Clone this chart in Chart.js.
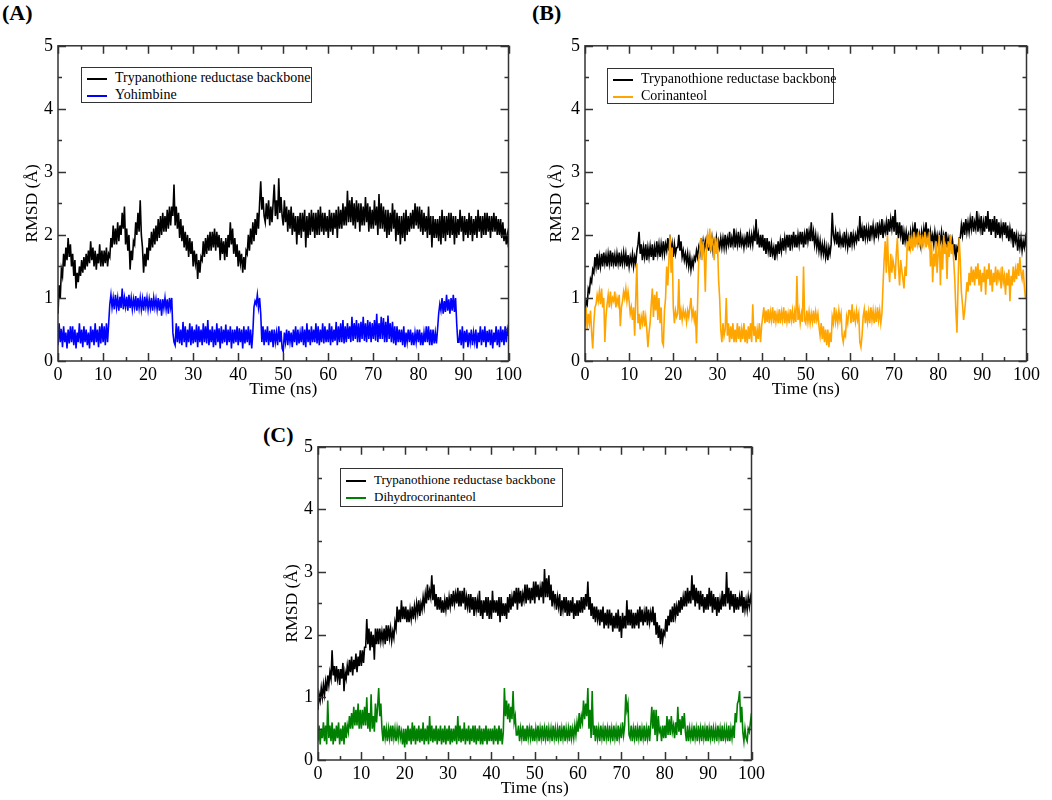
<!DOCTYPE html>
<html>
<head>
<meta charset="utf-8">
<script src="https://cdn.jsdelivr.net/npm/chart.js@4.4.1/dist/chart.umd.min.js"></script>
<style>
  body { margin: 0; background: #fff; width: 1052px; height: 800px; position: relative; overflow: hidden;
         font-family: "Liberation Serif", "Times New Roman", serif; color: #000; }
  .panel { position: absolute; }
  .tag { position: absolute; font-weight: bold; font-size: 22px; line-height: 22px; }
  .legend { position: absolute; border: 1.5px solid #333; background: #fff; box-sizing: border-box; font-size: 14px; }
  .row { position: absolute; left: 0; height: 16px; line-height: 16px; white-space: nowrap; }
  .row i { display: inline-block; width: 20px; height: 2px; vertical-align: middle; margin: 0 8px 0 5px; }
</style>
</head>
<body>
<div class="tag" style="left:2px;top:2px">(A)</div>
<div class="tag" style="left:532px;top:2px">(B)</div>
<div class="tag" style="left:263px;top:424px">(C)</div>

<div class="panel" style="left:0;top:30px;width:525px;height:370px"><canvas id="chartA"></canvas></div>
<div class="panel" style="left:520px;top:30px;width:523px;height:370px"><canvas id="chartB"></canvas></div>
<div class="panel" style="left:260px;top:431px;width:508px;height:368px"><canvas id="chartC"></canvas></div>

<div class="legend" style="left:81px;top:67px;width:231px;height:36px">
  <div class="row" style="top:2px"><i style="background:#000"></i>Trypanothione reductase backbone</div>
  <div class="row" style="top:19px"><i style="background:#0000ff"></i>Yohimbine</div>
</div>
<div class="legend" style="left:607px;top:68px;width:227px;height:36px">
  <div class="row" style="top:2px"><i style="background:#000"></i>Trypanothione reductase backbone</div>
  <div class="row" style="top:19px"><i style="background:#ffa500"></i>Corinanteol</div>
</div>
<div class="legend" style="left:340px;top:468px;width:223px;height:39px;font-size:13px">
  <div class="row" style="top:3px"><i style="background:#000"></i>Trypanothione reductase backbone</div>
  <div class="row" style="top:20px"><i style="background:#008000"></i>Dihydrocorinanteol</div>
</div>

<script>
// sampling step of the traces (ns), 401 samples from 0 to 100 ns
const timeStep = 0.25;

const xTicks = [0, 10, 20, 30, 40, 50, 60, 70, 80, 90, 100];
const xMinor = [5, 15, 25, 35, 45, 55, 65, 75, 85, 95];
const yTicks = [0, 1, 2, 3, 4, 5];
const yMinor = [0.5, 1.5, 2.5, 3.5, 4.5];

// (A) backbone + Yohimbine
const backboneA = [
  0.75,1.2,1.0,1.45, 1.35,1.7,1.5,1.8, 1.6,1.95,1.65,1.85, 1.5,1.7,1.35,1.6, 1.15,1.4,1.25,1.5, 1.35,1.6,1.4,1.65, 1.45,1.7,1.5,1.75, 1.55,1.9,1.6,1.8, 1.5,1.75,1.45,1.7, 1.55,1.85,1.5,1.75,
  1.5,1.75,1.55,1.8, 1.5,1.7,1.65,1.95, 1.8,2.15,1.85,2.1, 1.85,2.2,1.9,2.15, 2.0,2.35,2.1,2.45, 1.85,2.1,1.75,2.0, 1.45,1.75,1.6,1.9, 1.85,2.2,2.0,2.35, 2.05,2.55,2.0,1.8, 1.4,1.7,1.5,1.8,
  1.6,1.95,1.75,2.05, 1.8,2.1,1.85,2.15, 1.9,2.25,1.95,2.3, 2.0,2.35,2.05,2.3, 2.05,2.4,2.1,2.45, 2.15,2.45,2.3,2.8, 2.15,2.45,2.1,2.35, 1.95,2.25,1.9,2.15, 1.8,2.05,1.75,2.0, 1.65,1.95,1.7,1.9,
  1.5,1.75,1.55,1.7, 1.3,1.6,1.4,1.65, 1.6,1.9,1.65,1.95, 1.7,2.0,1.75,2.05, 1.75,2.05,1.8,2.1, 1.75,2.05,1.8,2.0, 1.6,1.95,1.7,1.9, 1.6,1.95,1.65,2.0, 1.8,2.2,1.85,2.1, 1.7,1.95,1.65,1.85,
  1.5,1.75,1.55,1.7, 1.4,1.65,1.45,1.75, 1.7,2.0,1.75,2.1, 1.85,2.2,1.9,2.25, 2.0,2.35,2.1,2.5, 2.85,2.4,2.6,2.3, 2.2,2.5,2.25,2.55, 2.15,2.45,2.2,2.5, 2.8,2.3,2.55,2.25, 2.9,2.35,2.6,2.3,
  2.15,2.55,2.2,2.45, 2.05,2.4,2.1,2.45, 2.0,2.35,2.05,2.3, 1.85,2.3,2.0,2.35, 1.95,2.35,2.05,2.4, 1.8,2.3,1.95,2.35, 2.0,2.4,2.05,2.35, 1.95,2.35,2.0,2.4, 2.0,2.45,2.05,2.35, 2.0,2.35,2.05,2.3,
  1.95,2.4,2.05,2.35, 2.0,2.35,2.1,2.4, 1.95,2.45,2.1,2.4, 2.1,2.5,2.15,2.45, 2.15,2.7,2.2,2.55, 2.2,2.6,2.15,2.5, 2.1,2.55,2.2,2.5, 2.05,2.5,2.15,2.45, 2.15,2.6,2.2,2.5, 2.05,2.45,2.1,2.4,
  2.1,2.55,2.15,2.45, 2.0,2.65,2.1,2.5, 2.1,2.45,2.05,2.4, 1.95,2.4,2.0,2.35, 2.05,2.5,2.1,2.4, 1.9,2.35,2.0,2.3, 1.85,2.3,1.95,2.35, 1.9,2.4,2.0,2.3, 2.05,2.35,2.1,2.4, 2.1,2.5,2.15,2.45,
  2.1,2.45,2.05,2.4, 2.0,2.35,2.05,2.3, 1.95,2.45,2.0,2.3, 1.8,2.3,1.95,2.25, 1.95,2.25,1.9,2.3, 1.85,2.4,1.95,2.3, 1.9,2.3,2.0,2.35, 1.95,2.35,2.0,2.3, 1.85,2.3,1.95,2.25, 2.0,2.4,2.05,2.3,
  1.9,2.3,2.0,2.25, 1.95,2.35,2.0,2.3, 1.9,2.25,2.0,2.3, 1.95,2.4,2.05,2.3, 1.95,2.3,2.0,2.35, 2.0,2.35,2.05,2.3, 1.95,2.3,2.05,2.35, 2.05,2.3,2.0,2.25, 2.0,2.25,1.95,2.2, 1.9,2.1,1.85,2.0,
  1.8
];
const yohimbine = [
  0.25,0.6,0.3,0.5, 0.22,0.55,0.3,0.45, 0.2,0.5,0.28,0.55, 0.3,0.55,0.25,0.5, 0.2,0.45,0.3,0.6, 0.28,0.5,0.22,0.55, 0.3,0.5,0.25,0.45, 0.2,0.55,0.3,0.5, 0.25,0.6,0.3,0.5, 0.22,0.55,0.28,0.6,
  0.3,0.55,0.25,0.6, 0.3,0.6,0.9,1.05, 0.85,1.0,0.82,1.05, 0.85,1.0,0.8,1.02, 0.84,1.15,0.82,1.0, 0.86,1.02,0.8,1.05, 0.84,1.0,0.82,0.98, 0.85,1.03,0.8,1.0, 0.84,1.0,0.82,0.98, 0.8,1.02,0.86,1.0,
  0.82,0.98,0.84,1.0, 0.8,1.0,0.85,0.98, 0.82,1.0,0.8,0.98, 0.72,0.98,0.84,1.0, 0.82,0.98,0.75,1.0, 0.85,1.0,0.45,0.3, 0.25,0.6,0.3,0.55, 0.28,0.5,0.25,0.62, 0.3,0.55,0.22,0.5, 0.3,0.6,0.25,0.55,
  0.28,0.5,0.3,0.58, 0.22,0.55,0.3,0.5, 0.25,0.6,0.3,0.55, 0.28,0.65,0.25,0.5, 0.3,0.55,0.22,0.5, 0.25,0.6,0.3,0.52, 0.2,0.55,0.28,0.5, 0.3,0.58,0.25,0.5, 0.3,0.55,0.2,0.5, 0.28,0.5,0.3,0.55,
  0.25,0.52,0.3,0.5, 0.2,0.55,0.28,0.5, 0.3,0.55,0.25,0.5, 0.2,0.45,0.85,0.95, 0.9,1.05,0.85,1.0, 0.75,0.3,0.55,0.25, 0.5,0.3,0.55,0.25, 0.48,0.3,0.5,0.22, 0.5,0.3,0.45,0.25, 0.55,0.3,0.48,0.2,
  0.15,0.45,0.3,0.5, 0.25,0.48,0.3,0.45, 0.22,0.5,0.3,0.55, 0.25,0.5,0.28,0.45, 0.3,0.55,0.25,0.5, 0.22,0.6,0.3,0.5, 0.25,0.55,0.3,0.5, 0.3,0.6,0.28,0.55, 0.25,0.5,0.3,0.6, 0.28,0.55,0.3,0.5,
  0.3,0.6,0.25,0.55, 0.3,0.5,0.32,0.62, 0.25,0.55,0.3,0.6, 0.3,0.65,0.28,0.55, 0.3,0.6,0.35,0.55, 0.3,0.7,0.32,0.6, 0.35,0.65,0.3,0.6, 0.3,0.62,0.35,0.7, 0.32,0.6,0.3,0.65, 0.35,0.62,0.3,0.6,
  0.35,0.65,0.32,0.75, 0.3,0.6,0.35,0.7, 0.35,0.68,0.3,0.62, 0.3,0.72,0.35,0.6, 0.3,0.62,0.28,0.55, 0.25,0.55,0.3,0.5, 0.3,0.5,0.25,0.55, 0.22,0.45,0.3,0.5, 0.3,0.5,0.25,0.45, 0.25,0.45,0.3,0.5,
  0.3,0.5,0.25,0.45, 0.25,0.45,0.3,0.55, 0.3,0.55,0.25,0.5, 0.25,0.5,0.28,0.45, 0.28,0.5,0.75,0.9, 0.8,1.0,0.75,0.95, 0.78,1.05,0.8,0.98, 0.75,1.0,0.8,1.05, 0.78,1.0,0.6,0.3, 0.3,0.5,0.25,0.55,
  0.2,0.48,0.3,0.5, 0.22,0.45,0.3,0.5, 0.25,0.45,0.3,0.5, 0.2,0.45,0.3,0.55, 0.25,0.5,0.3,0.55, 0.22,0.48,0.3,0.5, 0.25,0.5,0.2,0.45, 0.3,0.55,0.25,0.5, 0.22,0.55,0.3,0.5, 0.25,0.55,0.3,0.5,
  0.4
];

// (B) backbone + Corinanteol
const backboneB = [
  0.75,0.95,0.9,1.15, 1.1,1.3,1.25,1.45, 1.4,1.65,1.5,1.7, 1.45,1.65,1.5,1.7, 1.5,1.72,1.55,1.68, 1.5,1.7,1.55,1.75, 1.5,1.72,1.55,1.68, 1.5,1.7,1.55,1.72, 1.5,1.68,1.55,1.72, 1.55,1.7,1.5,1.68,
  1.5,1.65,1.55,1.7, 1.5,1.65,1.55,1.75, 1.85,2.05,1.7,1.85, 1.6,1.8,1.65,1.85, 1.6,1.8,1.65,1.82, 1.65,1.85,1.6,1.8, 1.65,1.9,1.7,1.85, 1.65,1.85,1.7,1.9, 1.7,1.85,1.75,1.95, 1.75,2.0,1.7,1.85,
  1.65,1.85,1.7,1.8, 1.8,2.0,1.75,1.9, 1.65,1.75,1.6,1.7, 1.55,1.7,1.5,1.65, 1.45,1.6,1.5,1.65, 1.6,1.75,1.65,1.8, 1.7,1.95,1.75,1.9, 1.75,1.9,1.8,2.0, 1.75,1.95,1.8,1.95, 1.75,1.9,1.8,1.95,
  1.75,1.9,1.8,1.95, 1.8,1.95,1.8,2.0, 1.8,1.95,1.85,2.05, 1.8,1.95,1.85,2.1, 1.8,2.0,1.85,2.05, 1.8,2.0,1.85,1.95, 1.8,1.95,1.85,2.05, 1.8,2.0,1.85,2.0, 1.85,2.05,1.9,2.25, 1.85,2.0,1.8,2.0,
  1.8,2.0,1.75,1.95, 1.7,1.95,1.75,1.9, 1.65,1.85,1.7,1.8, 1.6,1.85,1.7,1.9, 1.7,1.9,1.75,1.95, 1.75,1.95,1.8,2.0, 1.8,2.0,1.75,2.0, 1.85,2.05,1.8,2.0, 1.8,2.0,1.85,2.05, 1.85,2.05,1.8,2.0,
  1.85,2.1,1.9,2.05, 1.9,2.2,1.9,2.05, 1.85,2.0,1.8,1.95, 1.75,1.9,1.7,1.85, 1.7,1.85,1.65,1.8, 1.6,1.8,1.7,1.85, 2.35,2.0,1.9,2.05, 1.85,2.05,1.8,2.0, 1.85,1.95,1.8,2.05, 1.85,2.0,1.8,1.95,
  1.8,2.05,1.85,2.0, 1.85,2.0,1.9,2.05, 1.9,2.3,1.95,2.1, 1.9,2.15,1.95,2.1, 1.95,2.1,1.9,2.15, 2.0,2.15,1.95,2.1, 1.95,2.2,2.0,2.15, 2.0,2.25,1.95,2.15, 2.05,2.2,2.0,2.25, 2.05,2.25,2.1,2.3,
  2.05,2.4,2.0,2.2, 1.95,2.2,2.0,2.15, 1.85,2.05,1.9,2.05, 1.9,2.0,1.85,2.05, 1.9,2.1,1.95,2.2, 1.9,2.1,1.85,2.0, 1.85,2.05,1.9,2.1, 1.95,2.2,1.9,2.1, 1.85,2.05,1.9,2.0, 1.85,2.05,1.9,2.0,
  1.85,2.0,1.9,2.05, 1.85,2.0,1.9,2.05, 1.8,1.95,1.85,2.0, 1.75,1.9,1.7,1.85, 1.6,1.8,1.75,1.95, 1.95,2.15,2.0,2.2, 2.0,2.25,2.05,2.2, 2.05,2.25,2.1,2.3, 2.05,2.2,2.1,2.38, 2.05,2.25,2.1,2.3,
  2.0,2.2,2.05,2.3, 2.1,2.38,2.05,2.25, 2.0,2.25,2.05,2.3, 1.95,2.25,2.0,2.2, 1.95,2.15,2.0,2.2, 2.0,2.2,1.95,2.15, 1.9,2.1,1.95,2.1, 1.8,2.05,1.9,2.0, 1.75,1.95,1.8,1.95, 1.75,1.9,1.8,1.95,
  1.8
];
const corinanteol = [
  0.55,0.85,0.5,0.75, 0.6,0.8,0.45,0.2, 0.6,0.85,0.9,1.05, 0.95,1.1,0.9,1.15, 0.85,1.0,0.3,0.7, 0.9,1.05,0.85,1.1, 0.9,1.0,0.95,1.1, 0.85,1.0,0.9,1.05, 0.55,0.85,0.95,1.1, 1.0,1.15,0.95,1.1,
  0.95,0.75,0.85,0.65, 0.85,0.4,1.0,1.55, 0.6,0.75,0.5,0.7, 0.6,0.8,0.55,0.7, 0.5,0.22,0.45,0.6, 0.9,1.15,0.7,1.05, 0.8,1.1,0.65,1.0, 0.6,0.85,0.3,0.25, 0.8,1.0,1.5,1.2, 1.6,2.0,1.4,1.8,
  0.85,0.6,0.8,0.7, 0.75,1.3,0.65,0.8, 0.65,0.82,0.7,0.78, 0.62,0.8,0.7,0.85, 1.0,0.7,0.8,0.65, 0.8,0.28,0.9,1.6, 1.75,1.95,1.6,1.9, 1.7,1.1,1.85,2.0, 1.8,2.1,1.75,1.95, 1.85,1.6,1.95,1.7,
  1.95,1.3,1.0,0.5, 0.3,0.6,0.4,0.5, 1.0,0.4,0.6,0.3, 0.55,0.35,0.6,0.3, 0.5,0.3,0.6,0.35, 0.55,0.3,0.5,0.35, 0.6,0.3,0.5,0.28, 0.55,0.35,0.6,0.3, 0.9,0.4,0.55,0.3, 0.5,0.35,0.6,0.3,
  0.55,0.7,0.85,0.6, 0.8,0.62,0.82,0.6, 0.78,0.65,0.85,0.6, 0.8,0.62,0.75,0.6, 0.82,0.6,0.78,0.65, 0.85,0.6,0.8,0.62, 0.75,0.6,0.82,0.65, 0.8,0.6,0.78,0.62, 1.35,0.65,0.8,0.6, 0.75,0.62,1.5,0.65,
  0.6,0.8,0.62,0.78, 0.6,0.75,0.62,0.8, 0.6,0.78,0.65,0.75, 0.55,0.4,0.6,0.35, 0.55,0.3,0.5,0.25, 0.5,0.22,0.45,0.3, 0.7,0.6,0.85,0.62, 0.75,0.6,0.8,0.65, 0.75,0.4,0.3,0.45, 0.4,0.7,0.6,0.8,
  0.8,0.6,0.9,0.62, 0.75,0.62,0.8,0.65, 0.75,0.3,0.22,0.4, 0.7,0.82,0.6,0.8, 0.62,0.78,0.6,0.85, 0.65,0.8,0.6,0.78, 0.62,0.85,0.65,0.8, 0.6,0.75,1.2,1.6, 1.9,1.4,2.0,1.5, 1.25,1.7,1.4,1.6,
  1.5,1.3,1.7,1.95, 1.5,1.2,1.6,1.45, 1.3,1.15,1.5,1.35, 1.9,1.75,2.0,1.8, 1.95,1.75,2.05,1.8, 1.95,1.85,2.05,1.8, 2.0,1.8,1.95,1.85, 2.05,1.8,1.95,1.85, 2.05,1.5,1.9,1.25, 1.7,1.5,1.9,1.4,
  1.7,2.0,1.2,1.85, 1.45,2.0,1.7,1.85, 1.3,1.9,1.65,2.0, 1.7,1.85,1.6,1.3, 0.8,0.45,1.2,1.95, 1.6,1.1,0.9,0.65, 0.8,1.0,1.25,1.1, 1.4,1.2,1.5,1.25, 1.45,1.2,1.5,1.3, 1.55,1.2,1.45,1.1,
  1.4,1.25,1.5,1.05, 1.45,1.3,1.55,1.2, 1.45,1.1,1.4,1.25, 1.5,1.2,1.45,1.3, 1.4,1.15,1.5,1.25, 1.35,1.05,1.4,1.2, 1.45,0.95,1.35,1.2, 1.5,1.25,1.45,1.3, 1.55,1.35,1.65,1.4, 1.3,1.45,1.2,1.0,
  1.0
];

// (C) backbone + Dihydrocorinanteol
const backboneC = [
  0.8,1.05,0.95,1.15, 1.0,1.2,1.05,1.25, 1.1,1.35,1.2,1.4, 1.3,1.75,1.35,1.5, 1.25,1.5,1.3,1.45, 1.2,1.45,1.3,1.55, 1.1,1.4,1.3,1.5, 1.35,1.6,1.4,1.65, 1.35,1.6,1.45,1.7, 1.4,1.65,1.5,1.75,
  1.5,1.75,1.55,1.8, 1.8,2.25,1.85,2.1, 1.75,2.05,1.8,2.0, 1.6,2.1,1.85,2.1, 1.85,2.1,1.9,2.05, 1.9,2.1,1.85,2.15, 1.9,2.15,1.95,2.1, 1.9,2.05,1.95,2.2, 2.1,2.45,2.2,2.4, 2.2,2.55,2.25,2.45,
  2.25,2.45,2.2,2.4, 2.2,2.4,2.25,2.45, 2.25,2.45,2.3,2.5, 2.35,2.55,2.3,2.5, 2.4,2.6,2.45,2.65, 2.5,2.8,2.55,2.7, 2.6,2.95,2.55,2.8, 2.45,2.65,2.4,2.6, 2.4,2.6,2.35,2.55, 2.35,2.55,2.4,2.6,
  2.4,2.6,2.45,2.65, 2.45,2.7,2.5,2.65, 2.5,2.75,2.45,2.7, 2.45,2.7,2.5,2.75, 2.4,2.6,2.45,2.65, 2.35,2.65,2.4,2.6, 2.3,2.6,2.4,2.55, 2.35,2.7,2.3,2.55, 2.25,2.55,2.35,2.6, 2.3,2.6,2.25,2.55,
  2.25,2.7,2.35,2.55, 2.35,2.55,2.3,2.6, 2.2,2.6,2.3,2.5, 2.3,2.5,2.25,2.6, 2.35,2.65,2.4,2.6, 2.45,2.7,2.5,2.75, 2.4,2.75,2.5,2.7, 2.45,2.65,2.55,2.8, 2.5,2.8,2.55,2.75, 2.5,2.75,2.55,2.85,
  2.5,2.85,2.6,2.8, 2.55,2.75,2.6,2.85, 2.5,3.05,2.6,2.9, 2.6,2.95,2.55,2.8, 2.45,2.7,2.5,2.65, 2.4,2.6,2.45,2.65, 2.3,2.55,2.4,2.6, 2.35,2.6,2.3,2.55, 2.3,2.55,2.35,2.6, 2.25,2.5,2.3,2.55,
  2.3,2.55,2.35,2.6, 2.35,2.6,2.4,2.65, 2.45,2.85,2.4,2.6, 2.3,2.5,2.25,2.45, 2.2,2.45,2.25,2.4, 2.15,2.4,2.2,2.45, 2.1,2.35,2.15,2.4, 2.1,2.4,2.15,2.35, 2.05,2.3,2.1,2.35, 2.1,2.4,2.05,2.3,
  1.95,2.35,2.1,2.3, 2.1,2.55,2.15,2.4, 2.15,2.4,2.1,2.35, 2.1,2.35,2.15,2.4, 2.1,2.45,2.2,2.4, 2.15,2.35,2.2,2.45, 2.15,2.4,2.2,2.35, 2.2,2.45,2.15,2.35, 2.0,2.2,1.95,2.15, 1.85,2.1,1.9,2.05,
  2.0,2.25,2.05,2.3, 2.15,2.4,2.2,2.45, 2.2,2.5,2.3,2.45, 2.3,2.55,2.35,2.6, 2.4,2.6,2.45,2.7, 2.45,2.75,2.5,2.7, 2.5,2.95,2.55,2.8, 2.45,2.75,2.5,2.7, 2.4,2.7,2.45,2.65, 2.35,2.6,2.4,2.65,
  2.4,2.75,2.45,2.7, 2.35,2.65,2.4,2.6, 2.3,2.6,2.35,2.55, 2.4,2.7,2.45,2.65, 2.45,3.0,2.5,2.75, 2.4,2.7,2.45,2.65, 2.35,2.65,2.4,2.6, 2.4,2.6,2.45,2.7, 2.35,2.6,2.4,2.55, 2.4,2.6,2.45,2.6,
  2.5
];
const dihydrocorinanteol = [
  0.3,0.55,0.25,0.5, 0.35,0.6,0.3,0.55, 0.25,0.95,0.35,0.55, 0.3,0.6,0.25,0.5, 0.3,0.55,0.35,0.6, 0.25,0.5,0.3,0.55, 0.25,0.6,0.35,0.55, 0.45,0.7,0.5,0.75, 0.5,0.85,0.55,0.8, 0.55,0.9,0.5,0.8,
  0.5,0.8,0.55,0.85, 0.55,1.0,0.5,0.75, 0.45,1.05,0.5,0.7, 0.45,0.9,0.6,0.85, 1.15,0.7,0.9,0.5, 0.3,0.55,0.35,0.5, 0.3,0.5,0.35,0.55, 0.3,0.55,0.35,0.5, 0.3,0.5,0.35,0.55, 0.35,0.45,0.25,0.5,
  0.2,0.5,0.25,0.55, 0.3,0.5,0.25,0.6, 0.3,0.55,0.25,0.5, 0.3,0.55,0.28,0.5, 0.3,0.6,0.25,0.5, 0.3,0.55,0.25,0.7, 0.3,0.55,0.28,0.5, 0.3,0.55,0.25,0.5, 0.3,0.55,0.25,0.5, 0.28,0.55,0.25,0.5,
  0.3,0.55,0.25,0.5, 0.28,0.5,0.3,0.55, 0.25,0.7,0.3,0.55, 0.28,0.5,0.3,0.6, 0.25,0.5,0.3,0.55, 0.25,0.5,0.3,0.55, 0.28,0.55,0.25,0.5, 0.3,0.55,0.25,0.5, 0.25,0.5,0.3,0.55, 0.25,0.5,0.3,0.5,
  0.3,0.5,0.25,0.55, 0.3,0.5,0.25,0.55, 0.3,0.5,0.25,0.45, 1.15,0.7,0.95,0.65, 0.9,0.6,0.85,0.65, 1.1,0.6,0.7,0.4, 0.4,0.55,0.3,0.5, 0.35,0.55,0.3,0.5, 0.3,0.55,0.35,0.5, 0.35,0.55,0.3,0.5,
  0.3,0.5,0.35,0.55, 0.3,0.5,0.35,0.55, 0.3,0.5,0.35,0.55, 0.3,0.5,0.35,0.5, 0.3,0.55,0.35,0.5, 0.3,0.5,0.35,0.55, 0.3,0.5,0.35,0.55, 0.3,0.5,0.35,0.5, 0.3,0.55,0.35,0.5, 0.35,0.55,0.4,0.6,
  0.45,0.75,0.5,0.7, 0.6,0.95,0.65,0.9, 0.7,1.15,0.5,0.8, 0.35,1.1,0.4,0.55, 0.3,0.55,0.35,0.5, 0.3,0.55,0.35,0.5, 0.3,0.55,0.35,0.5, 0.3,0.55,0.35,0.5, 0.3,0.55,0.35,0.5, 0.3,0.55,0.35,0.5,
  0.35,0.6,0.4,0.55, 1.05,0.8,0.9,0.4, 0.35,0.55,0.3,0.5, 0.35,0.55,0.3,0.5, 0.35,0.55,0.3,0.5, 0.35,0.55,0.3,0.5, 0.35,0.55,0.3,0.55, 0.85,0.5,0.8,0.4, 0.8,0.3,0.7,0.45, 0.5,0.3,0.55,0.35,
  0.55,0.35,0.7,0.4, 0.65,0.4,0.7,0.45, 0.55,0.35,0.6,0.4, 0.85,0.45,0.65,0.4, 0.7,0.5,0.75,0.45, 0.3,0.55,0.3,0.5, 0.35,0.5,0.3,0.55, 0.35,0.5,0.3,0.55, 0.35,0.5,0.3,0.55, 0.35,0.5,0.3,0.55,
  0.3,0.5,0.35,0.55, 0.3,0.5,0.35,0.5, 0.3,0.55,0.35,0.5, 0.3,0.55,0.3,0.5, 0.35,0.5,0.3,0.55, 0.3,0.5,0.35,0.55, 0.35,0.75,0.6,0.9, 0.95,1.1,0.6,0.85, 0.45,0.3,0.5,0.35, 0.3,0.5,0.45,0.6,
  0.75
];

const serif = '"Liberation Serif", "Times New Roman", serif';

function toPoints(values) {
  return values.map((v, i) => ({ x: i * timeStep, y: v }));
}

// box around the plot with inward ticks on all four sides
const frameTicks = {
  id: 'frameTicks',
  afterDatasetsDraw(chart) {
    const { ctx, chartArea: a, scales: { x, y } } = chart;
    ctx.save();
    ctx.strokeStyle = '#333';
    ctx.lineWidth = 1.5;
    ctx.strokeRect(a.left, a.top, a.right - a.left, a.bottom - a.top);
    ctx.beginPath();
    const xMarks = (vals, len) => vals.forEach(v => {
      const px = Math.round(x.getPixelForValue(v)) + 0.5;
      ctx.moveTo(px, a.bottom); ctx.lineTo(px, a.bottom - len);
      ctx.moveTo(px, a.top); ctx.lineTo(px, a.top + len);
    });
    const yMarks = (vals, len) => vals.forEach(v => {
      const py = Math.round(y.getPixelForValue(v)) + 0.5;
      ctx.moveTo(a.left, py); ctx.lineTo(a.left + len, py);
      ctx.moveTo(a.right, py); ctx.lineTo(a.right - len, py);
    });
    xMarks(xTicks, 8); xMarks(xMinor, 4);
    yMarks(yTicks, 8); yMarks(yMinor, 4);
    ctx.stroke();
    ctx.restore();
  }
};

function makePanel(id, backbone, ligand, color, yWidth, yTitlePad) {
  new Chart(document.getElementById(id), {
    type: 'line',
    data: {
      datasets: [
        { data: toPoints(ligand), borderColor: color, order: 0 },
        { data: toPoints(backbone), borderColor: '#000', order: 1 }
      ]
    },
    options: {
      responsive: true,
      maintainAspectRatio: false,
      animation: false,
      parsing: false,
      normalized: true,
      layout: { padding: { top: 15, right: 15, bottom: 0, left: 0 } },
      elements: {
        line: { borderWidth: 1.6, tension: 0 },
        point: { radius: 0 }
      },
      plugins: { legend: { display: false }, tooltip: { enabled: false } },
      scales: {
        x: {
          type: 'linear', min: 0, max: 100,
          grid: { display: false, drawTicks: false },
          border: { display: false },
          ticks: { stepSize: 10, padding: 3, color: '#000', maxRotation: 0, font: { family: serif, size: 18 } },
          title: { display: true, text: 'Time (ns)', color: '#000', padding: { top: 0, bottom: 0 },
                   font: { family: serif, size: 17.5 } },
          afterFit: s => { s.height = 39; }
        },
        y: {
          min: 0, max: 5,
          grid: { display: false, drawTicks: false },
          border: { display: false },
          ticks: { stepSize: 1, padding: 5, color: '#000', font: { family: serif, size: 18 } },
          title: { display: true, text: 'RMSD (Å)', color: '#000', padding: { top: yTitlePad, bottom: 0 },
                   font: { family: serif, size: 17.5 } },
          afterFit: s => { s.width = yWidth; }
        }
      }
    },
    plugins: [frameTicks]
  });
}

makePanel('chartA', backboneA, yohimbine, '#0000ff', 58, 22);
makePanel('chartB', backboneB, corinanteol, '#ffa500', 65, 26);
makePanel('chartC', backboneC, dihydrocorinanteol, '#008000', 58, 22);
</script>
</body>
</html>
